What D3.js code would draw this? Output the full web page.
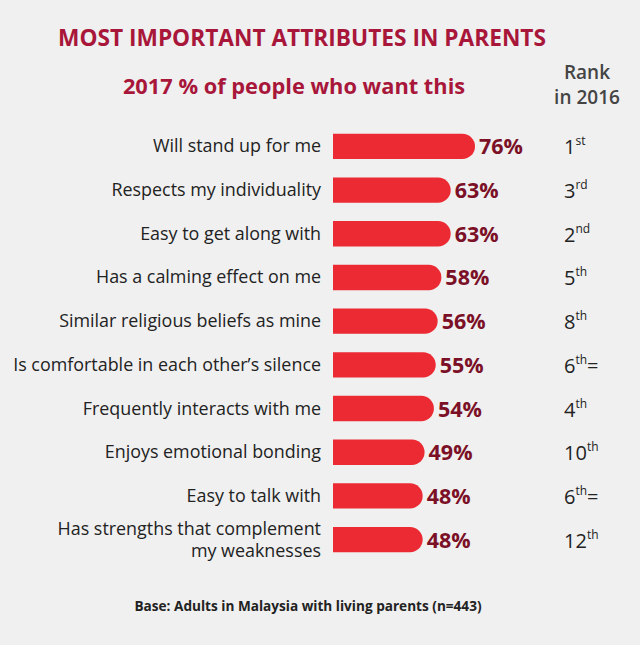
<!DOCTYPE html>
<html><head><meta charset="utf-8">
<script src="https://cdn.jsdelivr.net/npm/d3@7"></script>
<style>body{margin:0;background:#f0f0f0}svg{font-family:"Open Sans",sans-serif}</style>
</head><body><svg id="c" width="640" height="645"></svg>
<script>
var attributes = [["Will stand up for me"],["Respects my individuality"],["Easy to get along with"],["Has a calming effect on me"],["Similar religious beliefs as mine"],["Is comfortable in each other\u2019s silence"],["Frequently interacts with me"],["Enjoys emotional bonding"],["Easy to talk with"],["Has strengths that complement","my weaknesses"]];
var values = [76,63,63,58,56,55,54,49,48,48];
var rankNum = ["1","3","2","5","8","6","4","10","6","12"];
var rankSup = ["st","rd","nd","th","th","th","th","th","th","th"];
var rankTail = ["","","","","","=","","","=",""];

var svg = d3.select("#c");
svg.append("rect").attr("width",640).attr("height",645).attr("fill","#f0f0f0");

var x = d3.scaleLinear().domain([0,76]).range([333,475]);
var y = d3.scaleBand().domain(d3.range(values.length)).range([125,561]).paddingInner(0.42).paddingOuter(0.2);
var bh = y.bandwidth();

svg.append("text").attr("x",302).attr("y",46).attr("text-anchor","middle")
  .attr("font-size",22.7).attr("font-weight",700).attr("fill","#a8163a").text("MOST IMPORTANT ATTRIBUTES IN PARENTS");
svg.append("text").attr("x",294).attr("y",94).attr("text-anchor","middle")
  .attr("font-size",21.8).attr("font-weight",700).attr("fill","#a8163a").text("2017 % of people who want this");
svg.append("text").attr("x",587).attr("y",79).attr("text-anchor","middle")
  .attr("font-size",19).attr("font-weight",600).attr("fill","#444").text("Rank");
svg.append("text").attr("x",587).attr("y",104).attr("text-anchor","middle")
  .attr("font-size",19).attr("font-weight",600).attr("fill","#444").text("in 2016");

var g = svg.selectAll("g.row").data(values).join("g").attr("class","row")
  .attr("transform",(d,i)=>"translate(0,"+y(i)+")");

g.append("path").attr("fill","#ec2a33").attr("d",d=>{
  var x0=x(0), x1=x(d), r=bh/2;
  return "M"+x0+",0H"+(x1-r)+"A"+r+","+r+" 0 0 1 "+(x1-r)+","+bh+"H"+x0+"Z";
});
g.append("text").attr("x",d=>x(d)+4).attr("y",bh/2+8).attr("font-size",21.5).attr("font-weight",700)
  .attr("fill","#7b1027").text(d=>d+"%");

g.each(function(d,i){
  var lines = attributes[i], sel = d3.select(this);
  lines.forEach((l,k)=>{
    sel.append("text").attr("x",321).attr("text-anchor","end")
      .attr("y",bh/2+6+(k-(lines.length-1)/2)*22).attr("font-size",17.9).attr("fill","#222").text(l);
  });
  var t = sel.append("text").attr("x",564).attr("y",bh/2+8).attr("font-size",20).attr("fill","#222");
  t.append("tspan").text(rankNum[i]);
  t.append("tspan").attr("font-size",12).attr("dy",-9).text(rankSup[i]);
  if (rankTail[i]) t.append("tspan").attr("dy",9).text(rankTail[i]);
});

svg.append("text").attr("x",308).attr("y",611).attr("text-anchor","middle").attr("font-size",13.6)
  .attr("font-weight",700).attr("fill","#222").text("Base: Adults in Malaysia with living parents (n=443)");
</script></body></html>
